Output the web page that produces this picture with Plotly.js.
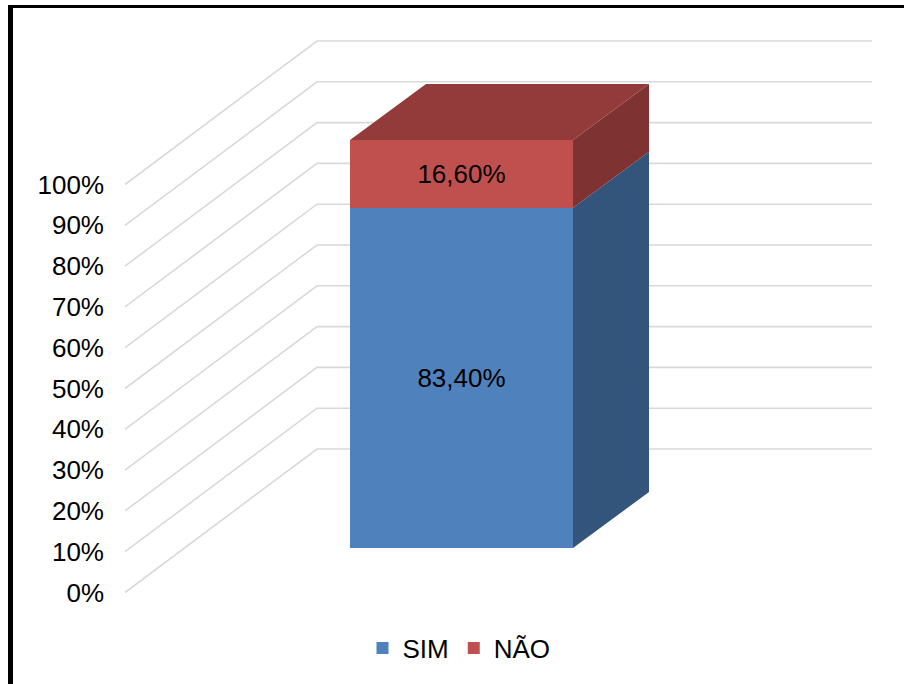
<!DOCTYPE html>
<html>
<head>
<meta charset="utf-8">
<script src="https://cdn.plot.ly/plotly-3.0.1.min.js"></script>
<style>
  html, body { margin: 0; padding: 0; background: #fff; }
  #chart { width: 904px; height: 684px; position: absolute; left: 0; top: 0; }
  #frame { position: absolute; left: 8px; top: 5px; width: 896px; height: 679px;
           border-left: 5px solid #000; border-top: 3px solid #000; box-sizing: border-box;
           pointer-events: none; }
</style>
</head>
<body>
<div id="chart"></div>
<div id="frame"></div>
<script>
// ---- data ----
const categories = ['Respostas'];
const seriesNames = ['SIM', 'NÃO'];
const simValues = [83.4];
const naoValues = [16.6];
const tickValues = [0, 10, 20, 30, 40, 50, 60, 70, 80, 90, 100];
const tickLabels = ['0%', '10%', '20%', '30%', '40%', '50%', '60%', '70%', '80%', '90%', '100%'];

// ---- geometry (pseudo-3D oblique projection) ----
const W = 904, H = 684;
const M = { l: 108, r: 14, t: 20, b: 74 };
const plotW = W - M.l - M.r, plotH = H - M.t - M.b;
const pxPerY = 4.08;          // pixels per percentage point
const pxPerX = 223;           // pixels per category unit (bar width = 1)
const barCenterPx = 461.5 - M.l;
const xRange = [-barCenterPx / pxPerX, (plotW - barCenterPx) / pxPerX];
const frontZeroPx = 610 - 592.5;
const yRange = [-frontZeroPx / pxPerY, -frontZeroPx / pxPerY + plotH / pxPerY];
const barFrontDepthPx = 44.5;
const y2Range = [yRange[0] - barFrontDepthPx / pxPerY, yRange[1] - barFrontDepthPx / pxPerY];
const wallDX = 192 / pxPerX, wallDY = 143.5 / pxPerY;
const wallX0 = (125 - 461.5) / pxPerX, wallX1 = (872 - 461.5) / pxPerX;
const barDX = 76 / pxPerX, barDY = 56 / pxPerY;

const shapes = [];
tickValues.forEach(v => {
  shapes.push({
    type: 'path', xref: 'x', yref: 'y', layer: 'below',
    path: `M${wallX0},${v} L${wallX0 + wallDX},${v + wallDY} L${wallX1},${v + wallDY}`,
    line: { color: '#D9D9D9', width: 1.6 }
  });
});

// side & top faces of the stacked bar (computed from data)
const hw = 0.5;
const simTop = simValues[0];
const total = simValues[0] + naoValues[0];
function quad(pts, color) {
  return {
    type: 'path', xref: 'x', yref: 'y2', layer: 'below',
    path: 'M' + pts.map(p => p[0] + ',' + p[1]).join(' L') + ' Z',
    fillcolor: color, line: { width: 0 }
  };
}
shapes.push(quad([[hw, 0], [hw + barDX, barDY], [hw + barDX, simTop + barDY], [hw, simTop]], '#34557B'));
shapes.push(quad([[hw, simTop], [hw + barDX, simTop + barDY], [hw + barDX, total + barDY], [hw, total]], '#7E3231'));
shapes.push(quad([[-hw, total], [-hw + barDX, total + barDY], [hw + barDX, total + barDY], [hw, total]], '#933B3B'));

const labelFont = { family: 'Arial, "Liberation Sans", sans-serif', size: 26, color: '#000' };

const traces = [
  {
    type: 'bar', name: seriesNames[0], x: categories.map((c, i) => i), y: simValues,
    yaxis: 'y2', width: 1, marker: { color: '#4F81BD', line: { width: 0 } },
    texttemplate: '%{y:.2f}%', textposition: 'inside', insidetextanchor: 'middle',
    constraintext: 'none', textfont: labelFont, hoverinfo: 'skip'
  },
  {
    type: 'bar', name: seriesNames[1], x: categories.map((c, i) => i), y: naoValues,
    yaxis: 'y2', width: 1, marker: { color: '#C0504D', line: { width: 0 } },
    texttemplate: '%{y:.2f}%', textposition: 'inside', insidetextanchor: 'middle',
    constraintext: 'none', textfont: labelFont, hoverinfo: 'skip'
  }
];

const layout = {
  width: W, height: H,
  margin: M,
  paper_bgcolor: '#fff', plot_bgcolor: '#fff',
  separators: ',.',
  barmode: 'stack',
  showlegend: true,
  legend: {
    orientation: 'h', traceorder: 'normal', x: (459 - M.l) / plotW, xanchor: 'center',
    y: (M.t + plotH - 648) / plotH, yanchor: 'middle',
    font: labelFont, bgcolor: 'rgba(0,0,0,0)', itemwidth: 30
  },
  xaxis: { range: xRange, visible: false, fixedrange: true },
  yaxis: {
    range: yRange, tickmode: 'array', tickvals: tickValues, ticktext: tickLabels,
    showgrid: false, zeroline: false, showline: false, ticks: '',
    tickfont: labelFont, ticklabelstandoff: 3, fixedrange: true
  },
  yaxis2: { range: y2Range, overlaying: 'y', visible: false, fixedrange: true },
  shapes: shapes,
  hovermode: false
};

Plotly.newPlot('chart', traces, layout, { displayModeBar: false, staticPlot: true });
</script>
</body>
</html>
